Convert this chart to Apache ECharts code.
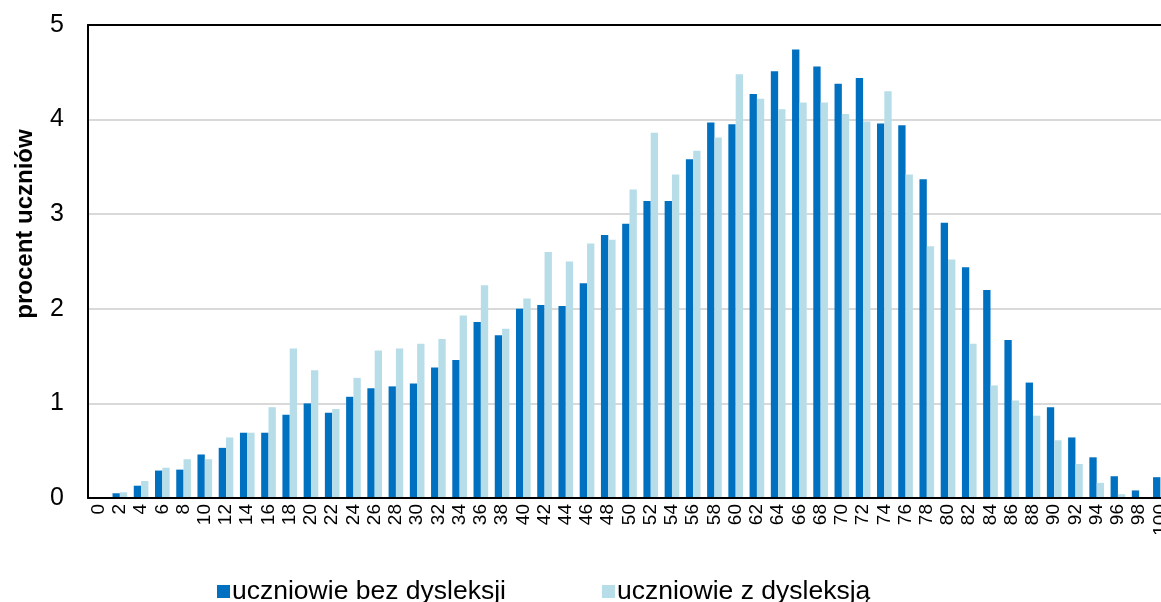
<!DOCTYPE html>
<html>
<head>
<meta charset="utf-8">
<script src="https://cdn.jsdelivr.net/npm/echarts@6/dist/echarts.min.js"></script>
<style>
html,body{margin:0;padding:0;background:#fff;overflow:hidden;width:1161px;height:602px;}
#chart{width:1172px;height:602px;}
</style>
</head>
<body>
<div id="chart"></div>
<script>
const categories = ['0','2','4','6','8','10','12','14','16','18','20','22','24','26','28','30','32','34','36','38','40','42','44','46','48','50','52','54','56','58','60','62','64','66','68','70','72','74','76','78','80','82','84','86','88','90','92','94','96','98','100'];
const seriesNames = ['uczniowie bez dysleksji', 'uczniowie z dysleksją'];
const bezDysleksji = [0, 0.05, 0.13, 0.29, 0.30, 0.46, 0.53, 0.69, 0.69, 0.88, 1.00, 0.90, 1.07, 1.16, 1.18, 1.21, 1.38, 1.46, 1.86, 1.72, 2.00, 2.04, 2.03, 2.27, 2.78, 2.90, 3.14, 3.14, 3.58, 3.97, 3.95, 4.27, 4.51, 4.74, 4.56, 4.38, 4.44, 3.96, 3.94, 3.37, 2.91, 2.44, 2.20, 1.67, 1.22, 0.96, 0.64, 0.43, 0.23, 0.08, 0.22];
const zDysleksja = [0, 0.06, 0.18, 0.32, 0.41, 0.41, 0.64, 0.69, 0.96, 1.58, 1.35, 0.94, 1.27, 1.56, 1.58, 1.63, 1.68, 1.93, 2.25, 1.79, 2.11, 2.60, 2.50, 2.69, 2.73, 3.26, 3.86, 3.42, 3.67, 3.81, 4.48, 4.22, 4.11, 4.18, 4.18, 4.06, 3.98, 4.30, 3.42, 2.66, 2.52, 1.63, 1.19, 1.03, 0.87, 0.61, 0.36, 0.16, 0.04, 0, 0];
const yTicks = [0, 1, 2, 3, 4, 5];
const yAxisTitle = 'procent uczniów';

const chart = echarts.init(document.getElementById('chart'), null, {renderer: 'canvas'});
const font = 'Liberation Sans, Arial, sans-serif';
chart.setOption({
  animation: false,
  backgroundColor: '#fff',
  textStyle: {fontFamily: font, color: '#000'},
  grid: {left: 88, right: 1, top: 25, bottom: 104, show: false, containLabel: false},
  legend: {
    left: 212, top: 573, itemWidth: 13, itemHeight: 13, itemGap: 96,
    icon: 'rect',
    textStyle: {fontSize: 26.5, fontFamily: font, color: '#000', padding: [0, 0, 0, -3]},
    data: seriesNames
  },
  graphic: [{
    type: 'text',
    x: 25, y: 224, rotation: Math.PI / 2,
    style: {text: yAxisTitle, font: 'bold 24px ' + font, fill: '#000', align: 'center', verticalAlign: 'middle'}
  }],
  xAxis: [{
    type: 'category', data: categories,
    axisTick: {show: false},
    axisLine: {lineStyle: {color: '#000', width: 2}},
    axisLabel: {rotate: 90, interval: 0, fontSize: 19, margin: 6, color: '#000', fontFamily: font},
    z: 5
  }, {
    type: 'category', data: categories, position: 'top',
    axisTick: {show: false}, axisLabel: {show: false},
    axisLine: {lineStyle: {color: '#000', width: 2}},
    z: 5
  }],
  yAxis: {
    type: 'value', min: yTicks[0], max: yTicks[yTicks.length - 1], interval: 1,
    axisLine: {show: true, lineStyle: {color: '#000', width: 2}},
    axisTick: {show: false},
    splitLine: {lineStyle: {color: '#D9D9D9', width: 2}},
    axisLabel: {fontSize: 25, margin: 24, color: '#000', fontFamily: font}
  },
  series: [
    {name: seriesNames[0], type: 'bar', data: bezDysleksji, barGap: '0%', barCategoryGap: '31%', itemStyle: {color: '#0070C0'}},
    {name: seriesNames[1], type: 'bar', data: zDysleksja, barGap: '0%', barCategoryGap: '31%', itemStyle: {color: '#B7DEE8'}}
  ]
});
</script>
</body>
</html>
